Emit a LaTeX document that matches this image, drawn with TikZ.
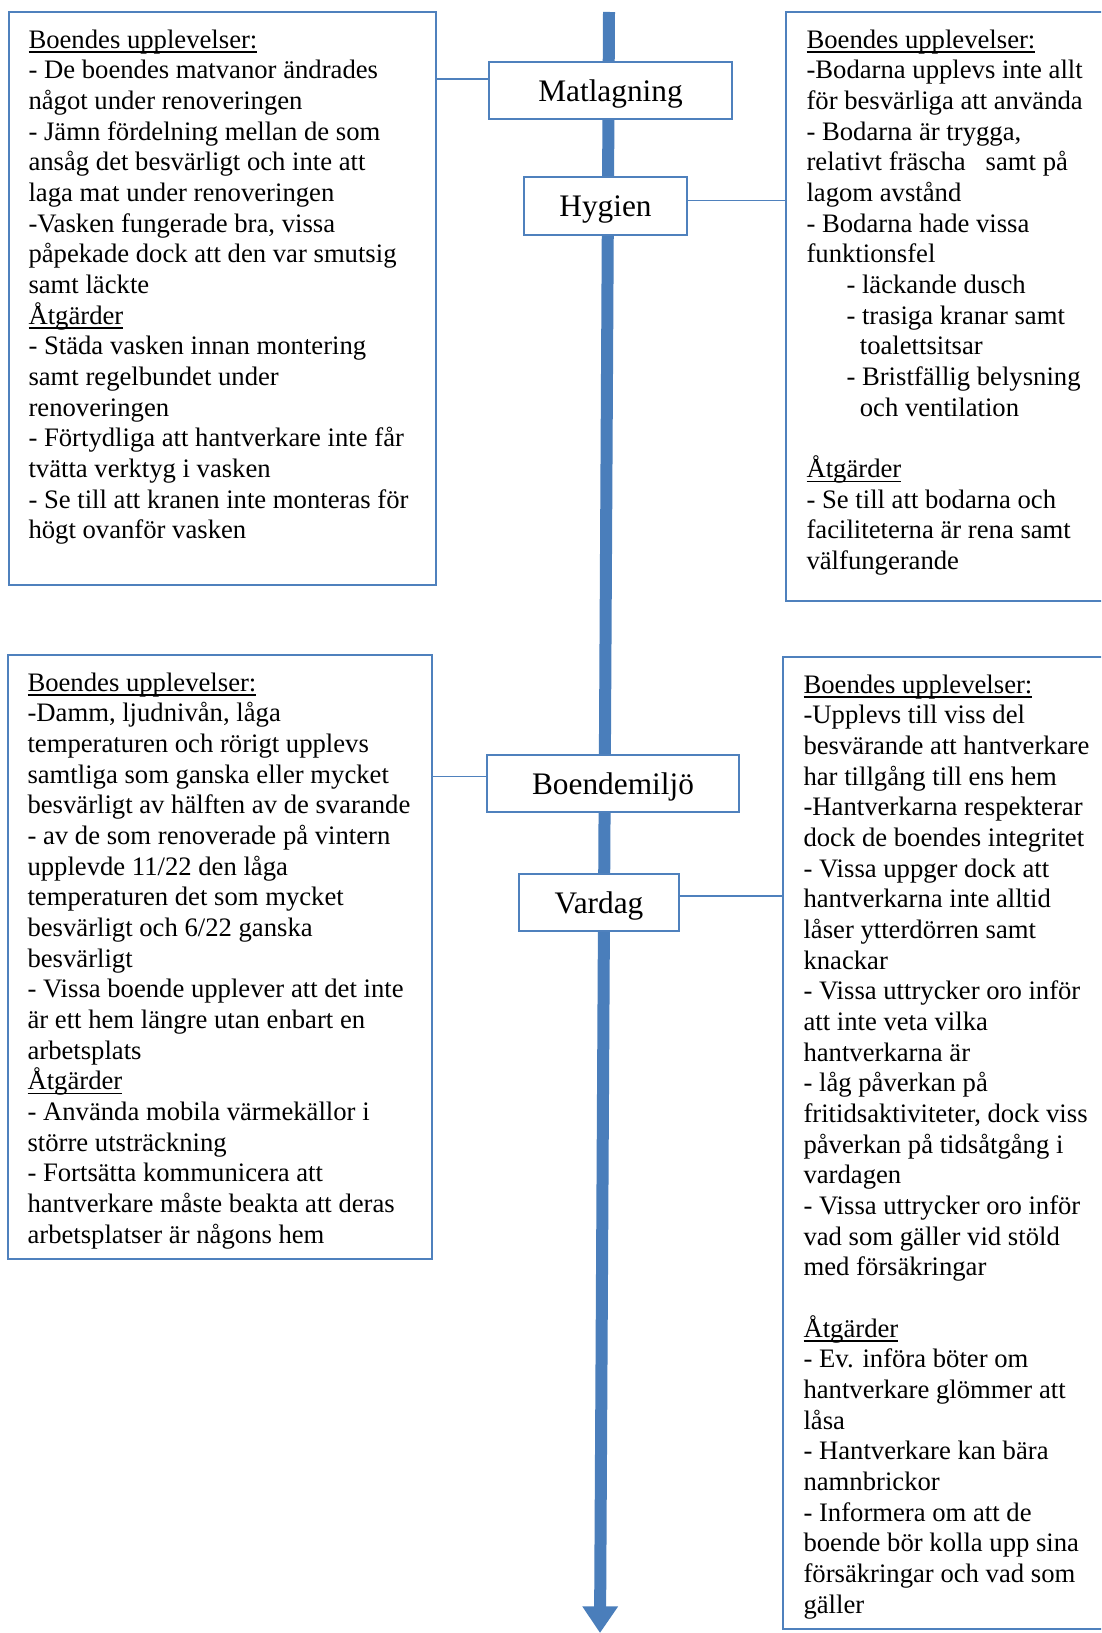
\documentclass[tikz,border=0pt]{standalone}
\usepackage{fontspec}
\setmainfont{Liberation Serif}
\usetikzlibrary{arrows.meta,fit,calc}

\definecolor{boxblue}{RGB}{79,129,189}
\definecolor{arrowblue}{RGB}{74,126,187}

% underline sitting close to the baseline
\newsavebox{\headbox}
\newcommand{\ulhead}[1]{\sbox{\headbox}{#1}\rlap{\rule[-3.5pt]{\wd\headbox}{1.1pt}}\usebox{\headbox}}

\tikzset{
  infobox/.style={draw=boxblue, line width=1.1pt, inner sep=0pt},
  infotext/.style={anchor=north west, align=left, inner sep=0pt, font=\fontsize{20}{23}\selectfont},
  topic/.style={draw=boxblue, line width=1.1pt, fill=white, inner sep=0pt,
    text height=18pt, text depth=2.2pt, font=\fontsize{23.5}{27}\selectfont},
  link/.style={draw=boxblue, line width=1.1pt}
}

\begin{document}
\begin{tikzpicture}[x=0.75pt,y=-0.75pt]
        \useasboundingbox (0,0) rectangle (1101,1633);
        \clip (0,0) rectangle (1101,1633);
        % Time line
        \coordinate (start) at (609,12);
        \coordinate (end) at (600,1633);
        \draw[arrowblue, line width=9pt, -{Triangle[width=25.5pt,length=20pt]}] (start) -- (end);
        % Topics on the time line
        \node[topic, minimum width=182.25pt, minimum height=42.75pt] (matl) at (610.5,90.5) {Matlagning};
        \node[topic, minimum width=122.25pt, minimum height=43.5pt] (hyg) at (605.5,206) {Hygien};
        \node[topic, minimum width=189pt, minimum height=42.75pt] (miljo) at (613,783.5) {Boendemiljö};
        \node[topic, minimum width=120pt, minimum height=42.75pt] (vard) at (599,902.5) {Vardag};
        % Boxes (the right ones run past the edge)
        \node[infobox, fit={(9,12) (436,585)}] (matlbox) {};
        \node[infobox, fit={(786,12) (1115,601)}] (hygbox) {};
        \node[infobox, fit={(8,655) (432,1259)}] (miljobox) {};
        \node[infobox, fit={(783,657) (1115,1629)}] (vardbox) {};
        % Matlagning
        \node[infotext] (matltext) at ([shift={(20,18)}]matlbox.north west) {%
          \ulhead{Boendes upplevelser:}\\
          - De boendes matvanor ändrades\\
          något under renoveringen\\
          - Jämn fördelning mellan de som\\
          ansåg det besvärligt och inte att\\
          laga mat under renoveringen\\
          -Vasken fungerade bra, vissa\\
          påpekade dock att den var smutsig\\
          samt läckte\\
          \ulhead{Åtgärder}\\
          - Städa vasken innan montering\\
          samt regelbundet under\\
          renoveringen\\
          - Förtydliga att hantverkare inte får\\
          tvätta verktyg i vasken\\
          - Se till att kranen inte monteras för\\
          högt ovanför vasken};
        % Hygien
        \node[infotext] (hygtext) at ([shift={(21,18)}]hygbox.north west) {%
          \ulhead{Boendes upplevelser:}\\
          -Bodarna upplevs inte allt\\
          för besvärliga att använda\\
          - Bodarna är trygga,\\
          relativt fräscha\hspace{10pt} samt på\\
          lagom avstånd\\
          - Bodarna hade vissa\\
          funktionsfel\\
          \hspace*{30pt}- läckande dusch\\
          \hspace*{30pt}- trasiga kranar samt\\
          \hspace*{40pt}toalettsitsar\\
          \hspace*{30pt}- Bristfällig belysning\\
          \hspace*{40pt}och ventilation\\[23pt]
          \ulhead{Åtgärder}\\
          - Se till att bodarna och\\
          faciliteterna är rena samt\\
          välfungerande};
        % Boendemiljö
        \node[infotext] (miljotext) at ([shift={(20,18)}]miljobox.north west) {%
          \ulhead{Boendes upplevelser:}\\
          -Damm, ljudnivån, låga\\
          temperaturen och rörigt upplevs\\
          samtliga som ganska eller mycket\\
          besvärligt av hälften av de svarande\\
          - av de som renoverade på vintern\\
          upplevde 11/22 den låga\\
          temperaturen det som mycket\\
          besvärligt och 6/22 ganska\\
          besvärligt\\
          - Vissa boende upplever att det inte\\
          är ett hem längre utan enbart en\\
          arbetsplats\\
          \ulhead{Åtgärder}\\
          - Använda mobila värmekällor i\\
          större utsträckning\\
          - Fortsätta kommunicera att\\
          hantverkare måste beakta att deras\\
          arbetsplatser är någons hem};
        % Vardag
        \node[infotext] (vardtext) at ([shift={(21,18)}]vardbox.north west) {%
          \ulhead{Boendes upplevelser:}\\
          -Upplevs till viss del\\
          besvärande att hantverkare\\
          har tillgång till ens hem\\
          -Hantverkarna respekterar\\
          dock de boendes integritet\\
          - Vissa uppger dock att\\
          hantverkarna inte alltid\\
          låser ytterdörren samt\\
          knackar\\
          - Vissa uttrycker oro inför\\
          att inte veta vilka\\
          hantverkarna är\\
          - låg påverkan på\\
          fritidsaktiviteter, dock viss\\
          påverkan på tidsåtgång i\\
          vardagen\\
          - Vissa uttrycker oro inför\\
          vad som gäller vid stöld\\
          med försäkringar\\[23pt]
          \ulhead{Åtgärder}\\
          - Ev. införa böter om\\
          hantverkare glömmer att\\
          låsa\\
          - Hantverkare kan bära\\
          namnbrickor\\
          - Informera om att de\\
          boende bör kolla upp sina\\
          försäkringar och vad som\\
          gäller};
        % Connectors
        \coordinate (m1) at ($(matl.north west)!.3!(matl.south west)$);
        \draw[link] (m1) -- (m1 -| matlbox.east);
        \coordinate (h1) at ($(hyg.north east)!.41!(hyg.south east)$);
        \draw[link] (h1) -- (h1 -| hygbox.west);
        \coordinate (b1) at ($(miljo.north west)!.38!(miljo.south west)$);
        \draw[link] (b1) -- (b1 -| miljobox.east);
        \coordinate (v1) at ($(vard.north east)!.39!(vard.south east)$);
        \draw[link] (v1) -- (v1 -| vardbox.west);
\end{tikzpicture}
\end{document}
